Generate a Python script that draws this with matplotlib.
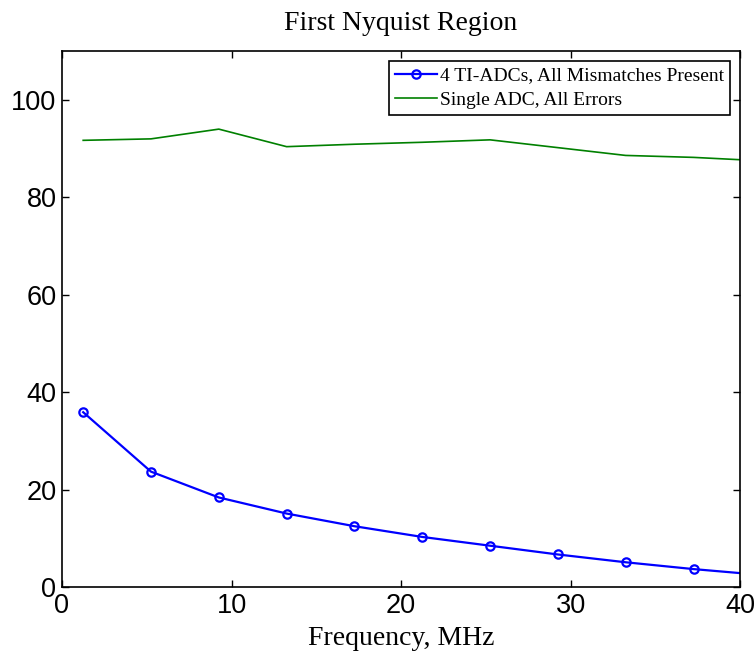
import matplotlib
matplotlib.use('Agg')
import matplotlib.pyplot as plt

# frequency points (last one sits just past the axis limit)
freq = [1.25, 5.25, 9.25, 13.25, 17.25, 21.25, 25.25, 29.25, 33.25, 37.25, 41.25]
ti_adc = [35.9, 23.7, 18.4, 15.1, 12.5, 10.3, 8.5, 6.7, 5.1, 3.7, 2.5]
single_adc = [91.7, 92.0, 94.0, 90.4, 90.9, 91.3, 91.8, 90.2, 88.6, 88.2, 87.5]

xticks = [0, 10, 20, 30, 40]
yticks = [0, 20, 40, 60, 80, 100]

tick_font = 'Liberation Sans'
serif = 'Liberation Serif'

fig = plt.figure(figsize=(7.56, 6.56), dpi=100)
ax = fig.add_axes([0.082, 0.105, 0.897, 0.817])

ax.plot(freq, ti_adc, color='blue', lw=1.6, marker='o', ms=6,
        mfc='none', mew=1.6, label='4 TI-ADCs, All Mismatches Present')
ax.plot(freq, single_adc, color='#008000', lw=1.2, label='Single ADC, All Errors')

ax.set_xlim(0, 40)
ax.set_ylim(0, 110)
ax.set_xticks(xticks)
ax.set_yticks(yticks)
ax.tick_params(direction='in', length=5, width=1, top=True, right=True,
               labelsize=19.5, pad=4)
for lab in ax.get_xticklabels() + ax.get_yticklabels():
    lab.set_fontfamily(tick_font)
for sp in ax.spines.values():
    sp.set_linewidth(1.2)

ax.set_title('First Nyquist Region', fontfamily=serif, fontsize=20, pad=15)
ax.set_xlabel('Frequency, MHz', fontfamily=serif, fontsize=20, labelpad=5)

leg = ax.legend(loc='upper right', prop={'family': serif, 'size': 14},
                fancybox=False, edgecolor='black', framealpha=1,
                borderaxespad=0.5, handlelength=2.15, handletextpad=0.2,
                labelspacing=0.35, borderpad=0.3)
leg.get_frame().set_linewidth(1.2)

fig.savefig('out.png', dpi=100)
